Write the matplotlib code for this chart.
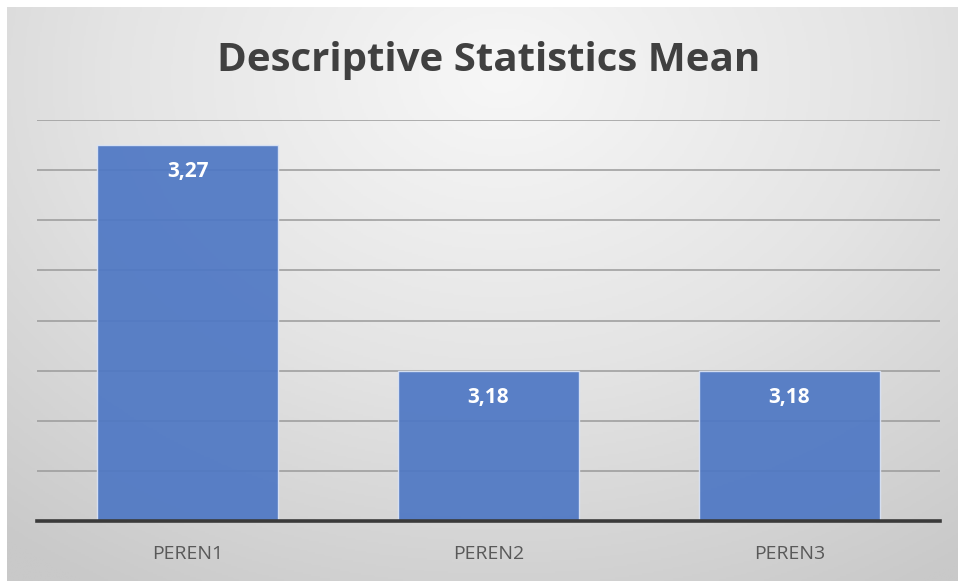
import numpy as np
import matplotlib
matplotlib.use("Agg")
import matplotlib.pyplot as plt
from matplotlib.colors import LinearSegmentedColormap

categories = ["PEREN1", "PEREN2", "PEREN3"]
means = [3.27, 3.18, 3.18]
value_labels = ["3,27", "3,18", "3,18"]
title = "Descriptive Statistics Mean"

W, H, DPI = 958, 581, 100
fig = plt.figure(figsize=(W / DPI, H / DPI), dpi=DPI)
fig.patch.set_facecolor("white")

# Chart area with radial gray gradient
x0, y0 = 7 / W, 0.0
bg = fig.add_axes([x0, y0, 1 - x0, 1 - 7 / H - y0])
bg.set_axis_off()
yy, xx = np.mgrid[0:1:300j, 0:1:500j]
r = np.sqrt(((xx - 0.52) / 0.75) ** 2 + ((yy - 0.12) / 0.95) ** 2)
cmap = LinearSegmentedColormap.from_list("bg", ["#f7f7f7", "#e4e4e4", "#c9c9c9"])
bg.imshow(r, cmap=cmap, vmin=0, vmax=1.1, aspect="auto", extent=[0, 1, 1, 0])
bg.set_xlim(0, 1)
bg.set_ylim(1, 0)

# Plot area
left, right = 37 / W, 940 / W
bottom, top = 1 - 521 / H, 1 - 120 / H
ax = fig.add_axes([left, bottom, right - left, top - bottom])
ax.patch.set_alpha(0)
x = np.arange(len(categories))
ax.set_xlim(-0.5, len(categories) - 0.5)
ax.set_ylim(3.12, 3.28)
ax.set_yticks(np.arange(3.12, 3.2801, 0.02))
ax.yaxis.grid(True, color="#9a9a9a", linewidth=1.1)
ax.set_axisbelow(True)
bars = ax.bar(x, means, width=0.6, bottom=0, color="#4f78c4", alpha=0.93,
              edgecolor="#dbe4f5", linewidth=1.0, zorder=2)
ax.set_ylim(3.12, 3.28)
for s in ["left", "right", "top"]:
    ax.spines[s].set_visible(False)
ax.spines["bottom"].set_color("#3a3a3a")
ax.spines["bottom"].set_linewidth(2.6)
ax.spines["bottom"].set_zorder(3)
ax.tick_params(axis="y", left=False, labelleft=False)
ax.tick_params(axis="x", length=0, pad=17)
ax.set_xticks(x)
ax.set_xticklabels(categories, fontsize=14, color="#595959", family="Open Sans")

for xi, v, lab in zip(x, means, value_labels):
    ax.annotate(lab, (xi, v), xytext=(0, -19), textcoords="offset points",
                ha="center", va="center", color="white", fontsize=15,
                fontweight="bold", family="Open Sans", zorder=4)

fig.text(0.5 + 10 / W, 1 - 60 / H, title, ha="center", va="center",
         fontsize=29, fontweight="bold", color="#404040", family="Open Sans")

fig.savefig("out.png", dpi=DPI)
